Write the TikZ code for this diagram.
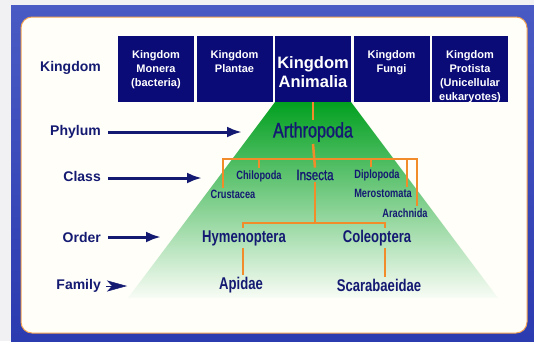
\documentclass[tikz,border=0pt]{standalone}
\usepackage{fontspec}
\setmainfont{Liberation Sans}
\newfontfamily\narrowfont[FakeStretch=0.77]{Liberation Sans}
\newfontfamily\narrowsemi[FakeStretch=0.77,FakeBold=1.2]{Liberation Sans}
\usepackage{tikz}
\usetikzlibrary{positioning,arrows.meta,calc}
\definecolor{navy}     {HTML}{0B0B78}
\definecolor{navytext} {HTML}{141A72}
\definecolor{frameblue}{HTML}{2B3BB0}
\definecolor{framelite}{HTML}{4A5AC4}
\definecolor{branch}   {HTML}{F28C2A}
\definecolor{rim}      {HTML}{F0A050}
\definecolor{leaf}     {HTML}{02A020}
\definecolor{leafmid}  {HTML}{7FCC70}
\definecolor{leaflite} {HTML}{F8FCF5}
\definecolor{paper}    {HTML}{F1F1F3}
\definecolor{panelfill}{HTML}{FFFEF8}
\tikzset{
  % --- nodes
  kbox/.style   = {fill=navy, text=white, inner sep=0pt, minimum width=76pt,
                   minimum height=66pt, font=\bfseries},
  rank/.style   = {anchor=east, text=navytext, inner sep=1pt,
                   font=\bfseries\fontsize{14}{16}\selectfont},
  taxon/.style  = {text=navytext, inner sep=2pt},
  cls/.style    = {taxon, font=\narrowfont\bfseries\fontsize{12}{14}\selectfont},
  ord/.style    = {taxon, font=\narrowfont\bfseries\fontsize{17}{19}\selectfont},
  % --- edges
  tree/.style   = {draw=branch, line width=2.5pt},
  pointer/.style= {draw=navytext, line width=3pt, -{Latex[length=15pt,width=11pt]}},
}
% text of a kingdom box: size, skip, first-line height, lines
\newcommand{\kingtext}[4]{\parbox[c][66pt][t]{76pt}{\centering
  \fontsize{#1}{#2}\selectfont\rule{0pt}{#3}#4}}

\begin{document}
\begin{tikzpicture}[x=1pt,y=-1pt]
  \useasboundingbox (0,0) rectangle (534,341);
  % slide frame + panel
  \fill[paper] (0,0) rectangle (534,341);
  \shade[top color=framelite, bottom color=frameblue] (11,5) rectangle (534,341);
  \draw[rim, fill=panelfill, line width=1pt, rounded corners=11pt] (21,17) rectangle (527,333);

  % green funnel below Animalia
  \shade[top color=leaf, middle color=leafmid, bottom color=leaflite]
    (275,102) -- (351,102) -- (498,298) -- (128,298) -- cycle;

  % kingdoms
  \node[kbox] (monera)   at (156,69)   {\kingtext{11}{14}{22pt}{Kingdom\\Monera\\(bacteria)}};
  \node[kbox] (plantae)  at (234.5,69) {\kingtext{11}{14}{22pt}{Kingdom\\Plantae}};
  \node[kbox] (animalia) at (313,69)   {\kingtext{16.5}{19}{32pt}{Kingdom\\Animalia}};
  \node[kbox] (fungi)    at (391.5,69) {\kingtext{11}{14}{22pt}{Kingdom\\Fungi}};
  \node[kbox] (protista) at (470,69)   {\kingtext{11}{14}{22pt}{Kingdom\\Protista\\(Unicellular\\eukaryotes)}};

  % ranks on the left
  \node[rank] (kingdom) at (102,68)  {Kingdom};
  \node[rank] (phylum)  at (102,132) {Phylum};
  \node[rank] (class)   at (102,176) {Class};
  \node[rank] (order)   at (102,237) {Order};
  \node[rank] (family)  at (102,286) {Family};

  \coordinate (phylumtip) at (242,132);
  \coordinate (classtip)  at (202,178);
  \coordinate (ordertip)  at (161,237);
  \coordinate (familytip) at (127,286);
  \draw[pointer] ([xshift=6pt]phylum.east) -- (phylumtip);
  \draw[pointer] ([xshift=6pt]class.east |- classtip) -- (classtip);
  \draw[pointer] ([xshift=6pt]order.east) -- (ordertip);
  \draw[navytext, line width=0.5pt, -{Stealth[length=20pt,width=11pt,inset=5pt]}]
    ([xshift=4pt]family.east) -- (familytip);

  % taxa
  \node[taxon, font=\narrowsemi\fontsize{21}{23}\selectfont] (arthro) at (313,132) {Arthropoda};
  \node[taxon, font=\narrowsemi\fontsize{15}{17}\selectfont] (insecta) at (315,175) {Insecta};
  \node[cls] (chilo)  at (259,176) {Chilopoda};
  \node[cls] (diplo)  at (377,175) {Diplopoda};
  \node[cls] (crust)  at (233,194) {Crustacea};
  \node[cls] (merost) at (383,193) {Merostomata};
  \node[cls] (arach)  at (405,213) {Arachnida};
  \node[ord] (hymeno) at (244,238) {Hymenoptera};
  \node[ord] (coleo)  at (377,238) {Coleoptera};
  \node[ord] (apidae) at (241,285) {Apidae};
  \node[ord] (scarab) at (379,285) {Scarabaeidae};

  % orange branches
  \coordinate (c1) at (223,159);
  \coordinate (c2) at (259,159);
  \coordinate (c3) at (371,159);
  \coordinate (c4) at (407,159);
  \coordinate (c5) at (417,159);
  \coordinate (o1) at (243,223);
  \coordinate (o2) at (385,223);
  \draw[tree] (animalia.south) -- (arthro.north);
  \draw[tree] (arthro.south) -- (insecta.north);
  \draw[tree] (c1 |- crust.north) -- (c1) -- (c5) -- (c5 |- arach.north);
  \draw[tree] (c2) -- (c2 |- chilo.north);
  \draw[tree] (c3) -- (c3 |- diplo.north);
  \draw[tree] (c4) -- (c4 |- merost.north);
  \draw[tree] (insecta.south) -- (insecta.south |- o1);
  \draw[tree] (o1 |- hymeno.north) -- (o1) -- (o2) -- (o2 |- coleo.north);
  \draw[tree] (o1 |- hymeno.south) -- (o1 |- apidae.north);
  \draw[tree] (o2 |- coleo.south) -- (o2 |- scarab.north);
\end{tikzpicture}
\end{document}
